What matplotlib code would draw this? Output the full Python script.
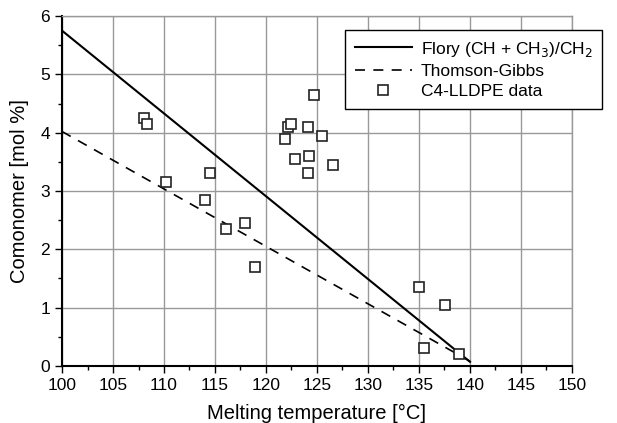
import numpy as np
import matplotlib.pyplot as plt

plt.rcParams['font.family'] = ['Liberation Sans', 'DejaVu Sans']

# C4-LLDPE data (melting temperature, comonomer content)
tm_data = [108.0, 108.3, 110.2, 114.5, 114.0, 116.1, 117.9, 118.9,
           121.9, 122.2, 122.5, 122.8, 124.1, 124.2, 124.1, 124.7, 125.5, 126.6,
           135.0, 135.5, 137.6, 138.9]
como_data = [4.25, 4.15, 3.15, 3.3, 2.85, 2.35, 2.45, 1.7,
             3.9, 4.1, 4.15, 3.55, 4.1, 3.6, 3.3, 4.65, 3.95, 3.45,
             1.35, 0.3, 1.05, 0.2]

# model lines (end points)
flory_t = [100, 140]
flory_c = [5.75, 0.07]
tg_t = [100, 140]
tg_c = [4.02, 0.08]

fig = plt.figure(figsize=(6.17, 4.23), dpi=100)
ax = fig.add_axes([0.1005, 0.135, 0.8265, 0.827])

ax.plot(flory_t, flory_c, '-', color='black', lw=1.5, label='Flory (CH + CH$_3$)/CH$_2$')
ax.plot(tg_t, tg_c, '--', color='black', lw=1.2, dashes=(6, 5), label='Thomson-Gibbs')
ax.plot(tm_data, como_data, 's', mfc='white', mec='#222222', mew=1.2, ms=6.5,
        ls='none', label='C4-LLDPE data')

ax.set_xlim(100, 150)
ax.set_ylim(0, 6)
ax.set_xticks(np.arange(100, 151, 5))
ax.set_yticks(np.arange(0, 7, 1))
ax.set_xticks(np.arange(100, 151, 2.5), minor=True)
ax.set_yticks(np.arange(0, 6.1, 0.5), minor=True)
ax.grid(True, which='major', color='#999999', lw=1.0)
ax.set_axisbelow(True)

ax.tick_params(which='major', direction='out', length=5, width=1, labelsize=12.5, colors='black')
ax.tick_params(which='minor', direction='out', length=3, width=1)
for s in ['left', 'bottom']:
    ax.spines[s].set_linewidth(1.5)
for s in ['top', 'right']:
    ax.spines[s].set_color('#999999')
    ax.spines[s].set_linewidth(1.0)

ax.set_xlabel('Melting temperature [°C]', fontsize=14.5, labelpad=8)
ax.set_ylabel('Comonomer [mol %]', fontsize=14.5, labelpad=8)

leg = fig.legend(loc='upper left', bbox_to_anchor=(345 / 617, 1 - 30 / 423),
                 frameon=True, fancybox=False, edgecolor='black', framealpha=1,
                 fontsize=12.5, handlelength=3.3, borderpad=0.55, labelspacing=0.3,
                 handletextpad=0.5, borderaxespad=0)
leg.get_frame().set_linewidth(1.0)

fig.savefig('out.png', dpi=100)
